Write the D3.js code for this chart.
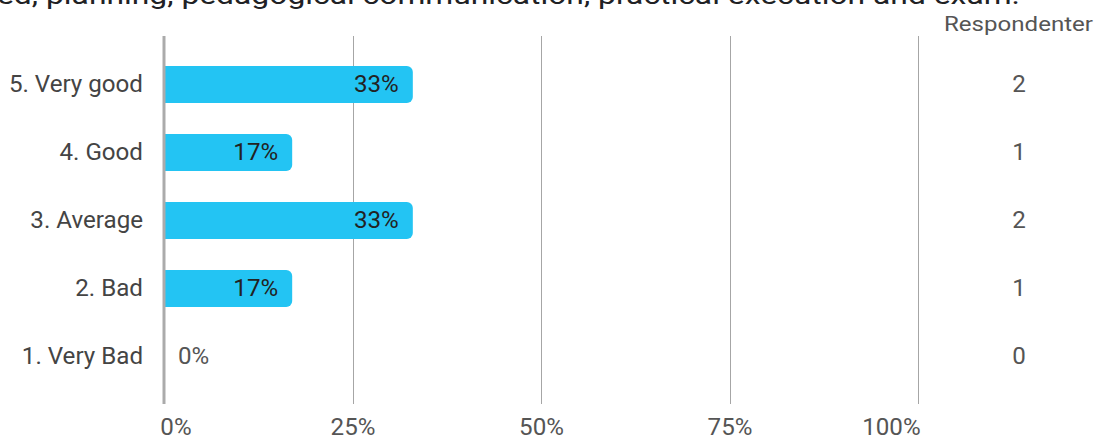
<!DOCTYPE html>
<html>
<head>
<meta charset="utf-8">
<script src="https://cdn.jsdelivr.net/npm/d3@7"></script>
<style>
  body { margin: 0; background: #fff; overflow: hidden; }
  text { font-family: Roboto, sans-serif; }
</style>
</head>
<body>
<div id="chart"></div>
<script>
// data
var categories = ['5. Very good', '4. Good', '3. Average', '2. Bad', '1. Very Bad'];
var percents = [33, 17, 33, 17, 0];
var respondents = [2, 1, 2, 1, 0];
var tickValues = [0, 25, 50, 75, 100];
var titleText = 'ed, planning, pedagogical communication, practical execution and exam.';
var countHeader = 'Respondenter';

var width = 1096, height = 436;
var fs = 23, stretch = 'scale(1.05,1)';

var svg = d3.select('#chart').append('svg').attr('width', width).attr('height', height);

var x = d3.scaleLinear().domain([0, 100]).range([164, 918]);
var y = d3.scaleBand().domain(categories).range([50.5, 390.5]).paddingInner(0.456).paddingOuter(0.228);

// title (cut at the top of the frame)
svg.append('text')
  .attr('x', -3).attr('y', 4)
  .attr('font-size', 25).attr('fill', '#202124')
  .attr('textLength', 1023).attr('lengthAdjust', 'spacingAndGlyphs')
  .text(titleText);

svg.append('text')
  .attr('x', 944).attr('y', 31)
  .attr('font-size', 21).attr('fill', '#555')
  .attr('textLength', 149).attr('lengthAdjust', 'spacingAndGlyphs')
  .text(countHeader);

// grid
svg.selectAll('line.grid')
  .data(tickValues.slice(1))
  .enter().append('line')
  .attr('class', 'grid')
  .attr('x1', d => Math.round(x(d)) + 0.5).attr('x2', d => Math.round(x(d)) + 0.5)
  .attr('y1', 36).attr('y2', 404)
  .attr('stroke', '#a6a6a6').attr('stroke-width', 1);

// bars, rounded on the right end only
function barPath(d) {
  var x0 = x(0) + 1, x1 = x(d.value), y0 = y(d.cat), h = y.bandwidth();
  var r = Math.min(6, (x1 - x0) / 2);
  var p = d3.path();
  p.moveTo(x0, y0);
  p.lineTo(x1 - r, y0);
  p.arcTo(x1, y0, x1, y0 + r, r);
  p.lineTo(x1, y0 + h - r);
  p.arcTo(x1, y0 + h, x1 - r, y0 + h, r);
  p.lineTo(x0, y0 + h);
  p.closePath();
  return p.toString();
}

var rows = categories.map((c, i) => ({ cat: c, value: percents[i], count: respondents[i] }));

svg.selectAll('path.bar')
  .data(rows.filter(d => d.value > 0))
  .enter().append('path')
  .attr('class', 'bar')
  .attr('d', barPath)
  .attr('fill', '#23c4f3');

// axis line at 0%
svg.append('line')
  .attr('x1', x(0)).attr('x2', x(0))
  .attr('y1', 36).attr('y2', 404)
  .attr('stroke', '#ababab').attr('stroke-width', 3);

function rowY(d) { return y(d.cat) + y.bandwidth() / 2; }

// category labels
svg.selectAll('text.cat')
  .data(rows)
  .enter().append('text')
  .attr('class', 'cat')
  .attr('transform', d => 'translate(143,' + rowY(d) + ') ' + stretch)
  .attr('dy', '0.32em')
  .attr('text-anchor', 'end').attr('font-size', fs).attr('fill', '#444')
  .text(d => d.cat);

// value labels
svg.selectAll('text.val')
  .data(rows)
  .enter().append('text')
  .attr('class', 'val')
  .attr('transform', d => 'translate(' + (d.value > 0 ? x(d.value) - 14 : x(0) + 14) + ',' + rowY(d) + ') ' + stretch)
  .attr('dy', '0.32em')
  .attr('text-anchor', d => d.value > 0 ? 'end' : 'start')
  .attr('font-size', fs)
  .attr('fill', d => d.value > 0 ? '#222' : '#555')
  .text(d => d.value + '%');

// respondent counts
svg.selectAll('text.count')
  .data(rows)
  .enter().append('text')
  .attr('class', 'count')
  .attr('transform', d => 'translate(1019,' + rowY(d) + ') ' + stretch)
  .attr('dy', '0.32em')
  .attr('text-anchor', 'middle').attr('font-size', fs).attr('fill', '#555')
  .text(d => d.count);

// bottom axis labels
var axis = d3.axisBottom(x).tickValues(tickValues).tickFormat(d => d + '%').tickSize(0);
var ax = svg.append('g').attr('transform', 'translate(0,414)').call(axis);
ax.select('.domain').remove();
ax.selectAll('text')
  .attr('font-family', 'Roboto, sans-serif').attr('font-size', fs).attr('fill', '#555')
  .attr('y', 21).attr('dy', 0)
  .attr('transform', stretch)
  .attr('text-anchor', (d, i) => i === 0 ? 'start' : (i === tickValues.length - 1 ? 'end' : 'middle'))
  .attr('dx', (d, i) => i === 0 ? -4 : (i === tickValues.length - 1 ? 2 : 0));
</script>
</body>
</html>
